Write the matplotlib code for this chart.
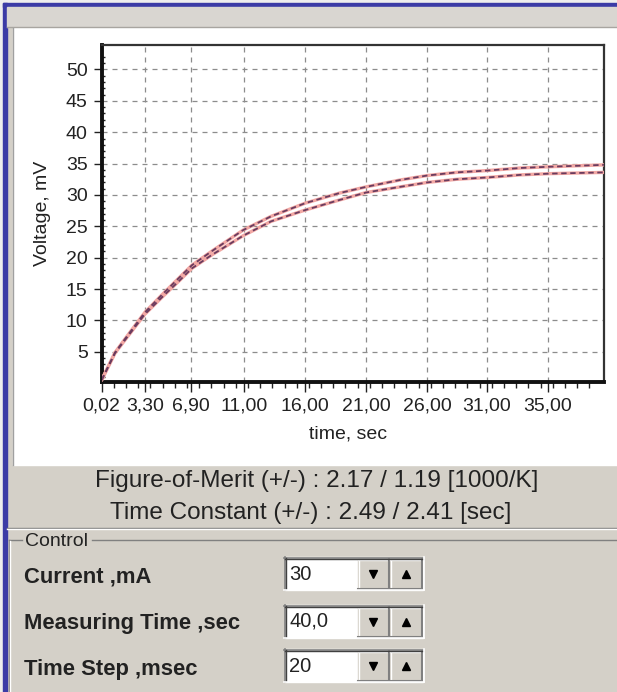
import numpy as np
import matplotlib
matplotlib.use("Agg")
import matplotlib.pyplot as plt
from matplotlib.patches import Rectangle

plt.rcParams["font.family"] = ["Liberation Sans", "DejaVu Sans"]

# ---------------------------------------------------
# Data
# ---------------------------------------------------

# time axis (in axis units, labels are the software's own strings)
time = [0, 1.1, 2.2, 3.55, 4.9, 6.3, 7.4, 9.0, 11.6, 13.9, 16.7, 19.5,
        21.7, 24.5, 26.7, 29.1, 31.7, 34.3, 36.7, 41.2]
volt_upper = [0.5, 4.9, 7.8, 11.3, 14.0, 16.7, 18.8, 21.0, 24.4, 26.6, 28.7,
              30.3, 31.3, 32.4, 33.1, 33.6, 33.9, 34.3, 34.5, 34.8]
volt_lower = [0.5, 4.8, 7.6, 11.0, 13.6, 16.2, 18.3, 20.4, 23.5, 25.8, 27.6,
              29.2, 30.4, 31.3, 32.0, 32.5, 32.8, 33.2, 33.4, 33.6]

x_tick_pos = [0, 3.55, 7.3, 11.65, 16.65, 21.7, 26.7, 31.6, 36.6]
x_tick_labels = ["0,02", "3,30", "6,90", "11,00", "16,00", "21,00",
                 "26,00", "31,00", "35,00"]
y_ticks = [5, 10, 15, 20, 25, 30, 35, 40, 45, 50]

merit_text = "Figure-of-Merit (+/-) : 2.17 / 1.19 [1000/K]"
tau_text = "Time Constant (+/-) : 2.49 / 2.41 [sec]"
control_names = ["Current ,mA", "Measuring Time ,sec", "Time Step ,msec"]
control_values = ["30", "40,0", "20"]

# ---------------------------------------------------
# Window background (drawn in pixel coordinates)
# ---------------------------------------------------

gray = "#d4d0c8"
dark = "#808080"
ink = "#222222"

fig = plt.figure(figsize=(6.17, 6.92), dpi=100)
fig.patch.set_facecolor(gray)

bg = fig.add_axes([0, 0, 1, 1], zorder=0)
bg.set_xlim(0, 617)
bg.set_ylim(692, 0)
bg.axis("off")

# outer frame and blue window border
bg.add_patch(Rectangle((0, 0), 617, 3, color="#eeeeee"))
bg.add_patch(Rectangle((0, 0), 3, 692, color="#eeeeee"))
bg.add_patch(Rectangle((3, 3), 614, 4, color="#3b3ba6"))
bg.add_patch(Rectangle((3, 3), 4, 689, color="#3b3ba6"))

# title strip
bg.add_patch(Rectangle((7, 7), 610, 20, color="#d9d6d1"))
bg.plot([7, 617], [26.5, 26.5], color="#a8a5a0", lw=1)

# white chart panel
bg.add_patch(Rectangle((13, 28), 604, 437, color="white"))
bg.plot([12.5, 12.5], [28, 465], color="#a0a0a0", lw=1)

# lower info texts
bg.text(317, 481, merit_text, fontsize=17.5, ha="center", va="center", color=ink)
bg.text(311, 513, tau_text, fontsize=17.5, ha="center", va="center", color=ink)

# separator line
bg.plot([7, 617], [527.5, 527.5], color=dark, lw=1)
bg.plot([7, 617], [529, 529], color="white", lw=1)

# "Control" group box
bg.plot([9, 22], [540, 540], color=dark, lw=1)
bg.plot([92, 617], [540, 540], color=dark, lw=1)
bg.plot([9, 9], [540, 692], color=dark, lw=1)
bg.plot([10, 10], [541, 692], color="white", lw=1)
bg.text(25, 542, "Control", fontsize=14, ha="left", va="center", color=ink)

# control rows with spin boxes
row_y = [574, 621, 666]
box_top = [557, 605, 649]
box_h = 33
for name, value, yc, y0 in zip(control_names, control_values, row_y, box_top):
    bg.text(24, yc + 3, name, fontsize=15.8, fontweight="bold", ha="left",
            va="center", color=ink)
    y1 = y0 + box_h
    # text field
    bg.add_patch(Rectangle((285, y0), 138, box_h, color="white"))
    # buttons
    bg.add_patch(Rectangle((358, y0 + 2), 31, box_h - 3, color=gray))
    bg.add_patch(Rectangle((390, y0 + 2), 32, box_h - 3, color=gray))
    for bx0, bx1 in [(358, 389), (390, 422)]:
        bg.plot([bx0, bx1], [y0 + 2.5, y0 + 2.5], color="white", lw=1)
        bg.plot([bx0 + 0.5, bx0 + 0.5], [y0 + 2, y1 - 1], color="white", lw=1)
        bg.plot([bx0, bx1], [y1 - 1.5, y1 - 1.5], color=dark, lw=1.5)
        bg.plot([bx1 - 0.5, bx1 - 0.5], [y0 + 2, y1 - 1], color=dark, lw=1.5)
    # sunken border
    bg.plot([284, 423], [y0 + 0.5, y0 + 0.5], color=dark, lw=1.2)
    bg.plot([284.5, 284.5], [y0, y1], color=dark, lw=1.2)
    bg.plot([285, 423], [y0 + 1.5, y0 + 1.5], color="#404040", lw=1)
    bg.plot([285.5, 285.5], [y0 + 1, y1 - 1], color="#404040", lw=1)
    bg.plot([284, 424], [y1, y1], color="white", lw=1.2)
    bg.plot([423.5, 423.5], [y0, y1], color="white", lw=1.2)
    # arrows
    bg.plot(373, (y0 + y1) / 2, marker="v", ms=6, color="black")
    bg.plot(406, (y0 + y1) / 2, marker="^", ms=6, color="black")
    bg.text(289, yc, value, fontsize=14.5, ha="left", va="center", color=ink)

# ---------------------------------------------------
# Chart
# ---------------------------------------------------

ax = fig.add_axes([101.6 / 617, 1 - 382 / 692, 502.4 / 617, 337 / 692], zorder=2)
ax.set_facecolor("white")

# fitted curves (pink) with measured data (dark dashes) on top
for v in [volt_upper, volt_lower]:
    ax.plot(time, v, color="#f2a8a4", lw=2.4, solid_capstyle="round", zorder=3)
for v in [volt_upper, volt_lower]:
    ax.plot(time, v, color="#6a3b5e", lw=1.3, linestyle=(0, (3, 2)), zorder=4)

ax.set_xlim(0, 41.2)
ax.set_ylim(0.2, 53.9)

ax.set_xticks(x_tick_pos)
ax.set_xticklabels(x_tick_labels)
ax.set_xticks(np.arange(1, 41, 1), minor=True)
ax.set_yticks(y_ticks)
ax.set_yticks(np.arange(1, 53, 1), minor=True)

ax.tick_params(axis="x", which="major", direction="out", length=7, width=1,
               pad=4, labelsize=14, colors=ink)
ax.tick_params(axis="x", which="minor", direction="out", length=4, width=1,
               color=ink)
ax.tick_params(axis="y", which="major", direction="out", length=6, width=1,
               pad=4, labelsize=14, colors=ink)
ax.tick_params(axis="y", which="minor", direction="in", length=2, width=1,
               color=ink)

ax.grid(True, which="major", color="#8c8c8c", lw=0.9, linestyle=(0, (4, 4)))

for side in ["left", "bottom"]:
    ax.spines[side].set_linewidth(2.8)
    ax.spines[side].set_color("#111111")
for side in ["top", "right"]:
    ax.spines[side].set_linewidth(1.6)
    ax.spines[side].set_color("#333333")

ax.set_xlabel("time, sec", fontsize=14, color=ink)
ax.set_ylabel("Voltage, mV", fontsize=14, color=ink)
ax.xaxis.set_label_coords(0.49, -0.128)
ax.yaxis.set_label_coords(-0.1, 0.5)

fig.savefig("out.png", dpi=100)
